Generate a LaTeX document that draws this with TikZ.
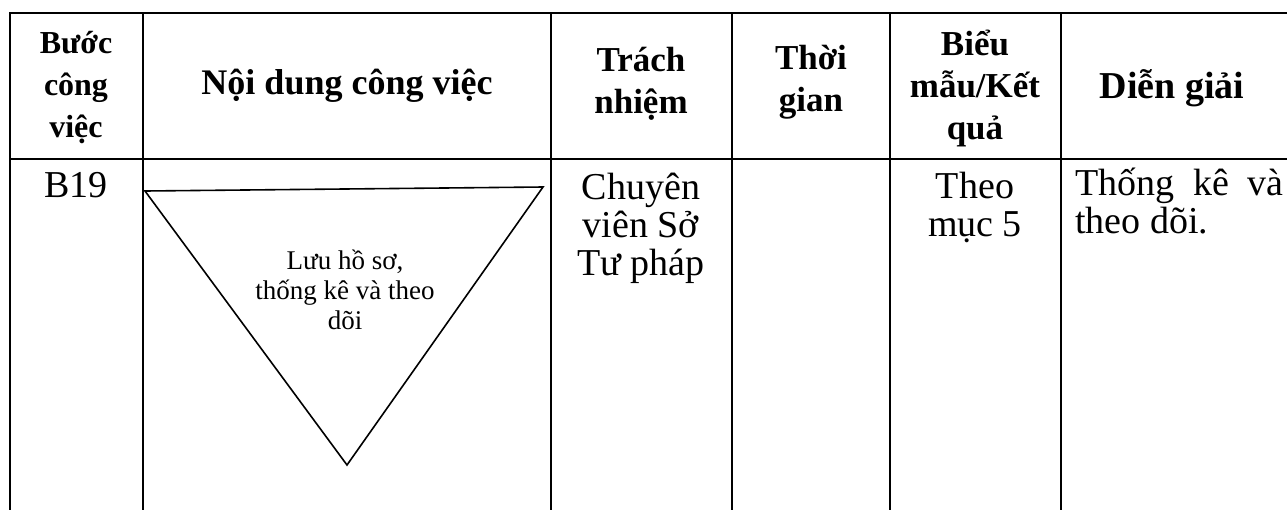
\documentclass[tikz,border=0pt]{standalone}
\usepackage{fontspec}
\setmainfont{Liberation Serif}

\begin{document}
\begin{tikzpicture}[x=0.5pt,y=-0.5pt,
    head/.style={font=\fontsize{17.5}{21}\selectfont\bfseries,align=center,inner sep=0pt},
    cell/.style={font=\fontsize{19}{19}\selectfont,align=center,inner sep=0pt},
    tritext/.style={font=\fontsize{13.5}{15}\selectfont,align=center,inner sep=0pt}]
  \useasboundingbox (0,0) rectangle (1287,510);
  % table grid
  \draw[line width=1pt] (1287,13) -- (10,13) -- (10,510);
  \draw[line width=1pt] (10,159) -- (1287,159);
  \foreach \x in {143,551,732,890,1061}
    \draw[line width=1pt] (\x,13) -- (\x,510);
  % header
  \node[head,font=\fontsize{16}{21}\selectfont\bfseries] (hstep) at (76,88) {Bước\\công\\việc};
  \node[head,font=\fontsize{18}{21}\selectfont\bfseries] (hcontent) at (347,86) {Nội dung công việc};
  \node[head] (hresp) at (641,84) {Trách\\nhiệm};
  \node[head] (htime) at (811,82) {Thời\\gian};
  \node[head] (hform) at (975,88) {Biểu\\mẫu/Kết\\quả};
  \node[head,font=\fontsize{19}{21}\selectfont\bfseries] (hnote) at (1172,88) {Diễn giải};
  % row B19
  \node[cell,anchor=base] (step) at (76,197) {B19};
  \draw[line width=0.8pt] (145,191) -- (543,187) -- (347,465) -- cycle;
  \node[tritext] (task) at (345,290) {Lưu hồ sơ,\\thống kê và theo\\dõi};
  \node[cell] (resp) at (641,228) {Chuyên\\viên Sở\\Tư pháp};
  \node[cell] (form) at (975,207) {Theo\\mục 5};
  \node[cell,align=justify,text width=104pt,anchor=north west] (note) at (1075,168) {Thống kê và theo dõi.};
\end{tikzpicture}
\end{document}
